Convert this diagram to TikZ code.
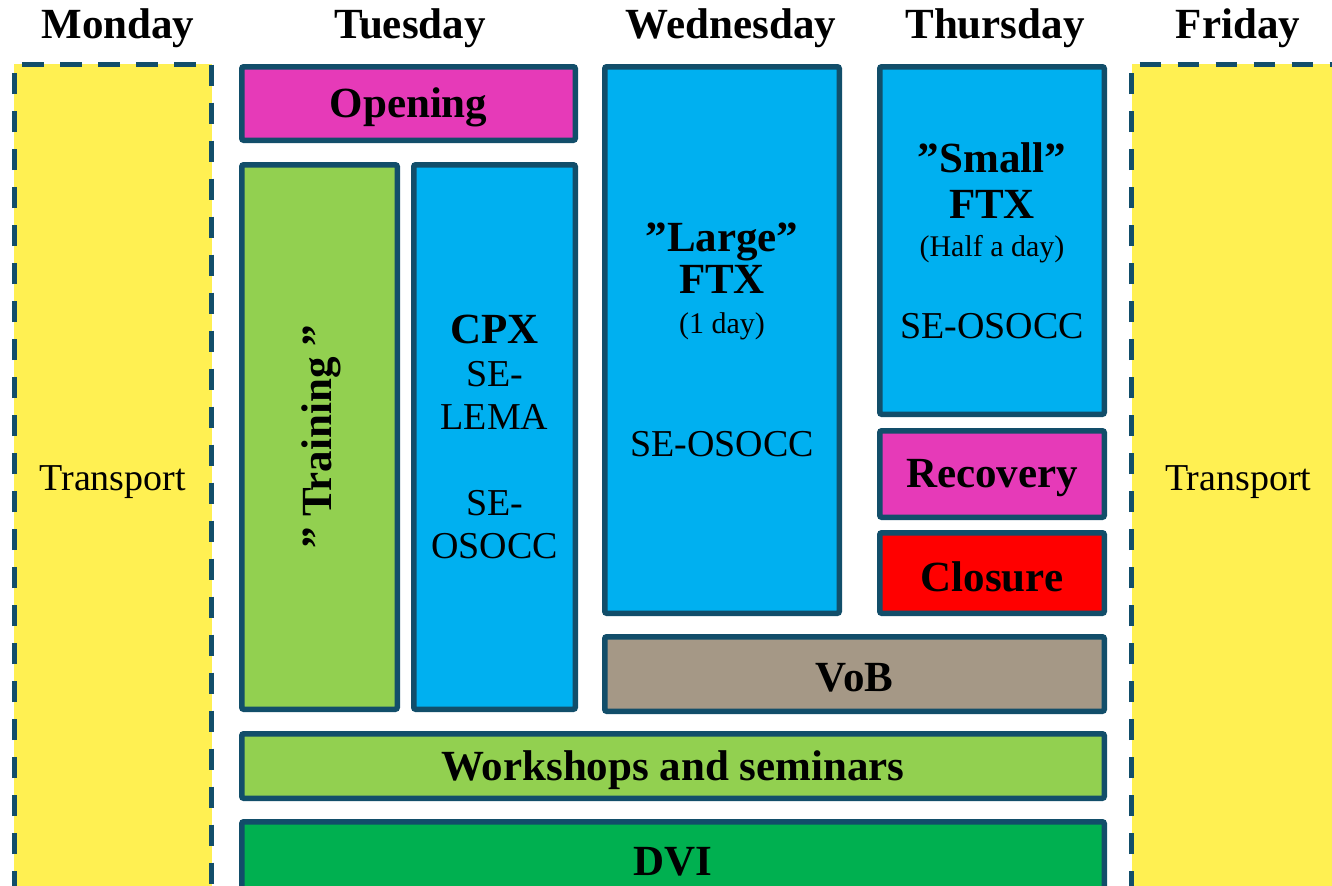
\documentclass[tikz,border=0pt]{standalone}
\usepackage{fontspec}
\setmainfont{Liberation Serif}
\usepackage{graphicx}
\usetikzlibrary{fit}
\definecolor{bordc}{HTML}{124E6A}
\definecolor{yelc}{HTML}{FFF052}
\definecolor{magc}{HTML}{E63AB8}
\definecolor{bluec}{HTML}{00B0F0}
\definecolor{lgreenc}{HTML}{92D050}
\definecolor{dgreenc}{HTML}{00B050}
\definecolor{redc}{HTML}{FF0000}
\definecolor{grayc}{HTML}{A59886}
\newcommand\regf{\fontsize{19}{21.5}\selectfont}
\newcommand\hdf{\fontsize{21.5}{24}\selectfont\bfseries}
\newcommand\smf{\fontsize{15}{18}\selectfont}
\tikzset{
  box/.style={draw=bordc,line width=2.75pt,inner sep=0pt,outer sep=0pt,rounded corners=1pt},
  daybox/.style={fill=yelc,inner sep=0pt,outer sep=0pt},
  txt/.style={inner sep=0pt,align=center,font=\regf,text=black},
  onetxt/.style={txt,yshift=-2pt},
  dayhead/.style={font=\hdf,anchor=base},
  dashedge/.style={draw=bordc,line width=2.5pt,dash pattern=on 10.75pt off 8.25pt},
}
\begin{document}
\begin{tikzpicture}[x=0.5pt,y=-0.5pt]
\clip (0,0) rectangle (1332,885);
\fill[white] (0,0) rectangle (1332,885);
% day headers
\node[dayhead] (hmon) at (118,38) {Monday};
\node[dayhead] (htue) at (410,38) {Tuesday};
\node[dayhead] (hwed) at (731,38) {Wednesday};
\node[dayhead] (hthu) at (995,38) {Thursday};
\node[dayhead] (hfri) at (1238,38) {Friday};
% transport days
\node[daybox,fit={(14,64) (211.5,892)}] (mon) {};
\draw[dashedge] (mon.south west) -- (mon.north west) -- (mon.north east) -- (mon.south east);
\node[onetxt] (tmon) at (mon.center) {Transport};
\node[daybox,fit={(1131.5,64) (1345,892)}] (fri) {};
\draw[dashedge] (fri.south west) -- (fri.north west) -- (fri.north east);
\node[onetxt] (tfri) at (fri.center) {Transport};
% boxes
\node[box,fill=magc,fit={(241.75,66.75) (575.25,140.25)}] (open) {};
\node[onetxt,font=\hdf] (topen) at (open.center) {Opening};
\node[box,fill=lgreenc,fit={(241.75,164.75) (397.25,709.25)}] (train) {};
\node[txt,font=\hdf,rotate=90,xshift=0pt] (ttrain) at ([xshift=1pt]train.center) {” Training ”};
\node[box,fill=bluec,fit={(413.75,164.75) (575.25,709.25)}] (cpx) {};
\node[txt] (tcpx) at (cpx.center) {{\hdf CPX}\\SE-\\LEMA\\[21.5pt]SE-\\OSOCC};
\node[box,fill=bluec,fit={(604.75,66.75) (839.25,613.25)}] (large) {};
\node[txt] (tlarge) at (large.center) {{\hdf ”Large”}\\[-0.5pt]{\hdf FTX}\\[-1.5pt]{\smf (1 day)}\\[40pt]SE-OSOCC};
\node[box,fill=bluec,fit={(879.75,66.75) (1104.25,414.25)}] (small) {};
\node[txt] (tsmall) at (small.center) {{\hdf ”Small”}\\[1.5pt]{\hdf FTX}\\[-2.5pt]{\smf (Half a day)}\\[19.5pt]SE-OSOCC};
\node[box,fill=magc,fit={(879.75,430.75) (1104.25,517.25)}] (recov) {};
\node[onetxt,font=\hdf] (trecov) at (recov.center) {Recovery};
\node[box,fill=redc,fit={(879.75,532.75) (1104.25,613.25)}] (close) {};
\node[onetxt,font=\hdf] (tclose) at (close.center) {Closure};
\node[box,fill=grayc,fit={(604.75,636.75) (1104.25,711.25)}] (vob) {};
\node[onetxt,font=\hdf] (tvob) at (vob.center) {VoB};
\node[box,fill=lgreenc,fit={(241.75,733.75) (1104.25,798.25)}] (work) {};
\node[onetxt,font=\hdf] (twork) at (work.center) {Workshops and seminars};
\node[box,fill=dgreenc,fit={(241.75,821.75) (1104.25,894)}] (dvi) {};
\node[onetxt,font=\hdf] (tdvi) at (dvi.center) {DVI};
\end{tikzpicture}
\end{document}
